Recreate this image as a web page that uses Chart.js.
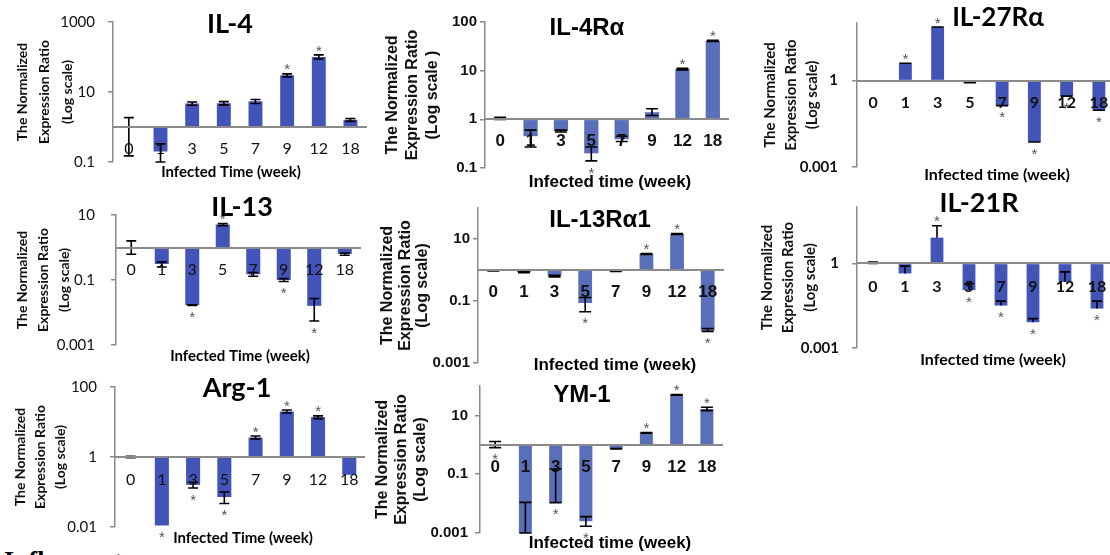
<!DOCTYPE html>
<html>
<head>
<meta charset="utf-8">
<script src="https://cdn.jsdelivr.net/npm/chart.js@4.4.1/dist/chart.umd.min.js"></script>
<style>
html, body { margin: 0; padding: 0; background: #fff; width: 1110px; height: 555px; overflow: hidden; position: relative; }
canvas { position: absolute; }
#foot { position: absolute; left: 4px; top: 546px; font: bold 26px 'Liberation Serif', serif; color: #000; }
</style>
</head>
<body>
<div id="foot">Inflammatory</div>
<script>
// categories (infected time, weeks)
const weeks = ['0', '1', '3', '5', '7', '9', '12', '18'];

// IL-4
const il4Vals = [1, 0.2, 4.7, 4.8, 5.4, 30, 100, 1.6];
const il4Lo = [0.15, 0.09, 4.2, 4.3, 4.7, 27, 88, 1.45];
const il4Hi = [1.85, 0.33, 5.2, 5.3, 6.1, 33, 115, 1.75];
const il4Sig = [0, 0, 0, 0, 0, 1, 1, 0];
const il4Ticks = [0.1, 10, 1000];

// IL-4Ra
const il4raVals = [1.05, 0.45, 0.57, 0.2, 0.39, 1.4, 10.8, 41];
const il4raLo = [1.0, 0.27, 0.55, 0.14, 0.35, 1.2, 10.4, 40];
const il4raHi = [1.1, 0.6, 0.6, 0.27, 0.45, 1.65, 11.2, 42];
const il4raSig = [0, 0, 0, -1, 0, 0, 1, 1];
const il4raTicks = [0.1, 1, 10, 100];

// IL-27Ra
const il27Vals = [1, 4, 73, 0.85, 0.135, 0.0074, 0.29, 0.093];
const il27Lo = [null, 4, 73, 0.85, 0.135, 0.0074, 0.29, 0.093];
const il27Hi = [null, 4, 73, 0.85, 0.135, 0.0074, 0.29, 0.093];
const il27Sig = [0, 1, 1, 0, -1, -1, -1, -1];
const il27Ticks = [0.001, 1];

// IL-13
const il13Vals = [1, 0.31, 0.0168, 5.1, 0.15, 0.1, 0.016, 0.63];
const il13Lo = [0.62, 0.25, 0.0165, 4.7, 0.13, 0.09, 0.0055, 0.58];
const il13Hi = [1.6, 0.36, 0.0172, 5.5, 0.17, 0.11, 0.027, 0.68];
const il13Sig = [0, 0, -1, 1, 0, -1, -1, 0];
const il13Ticks = [0.001, 0.1, 10];

// IL-13Ra1
const il13raVals = [0.95, 0.85, 0.65, 0.086, 0.92, 3.3, 14.5, 0.011];
const il13raLo = [0.93, 0.82, 0.6, 0.045, 0.9, 3.2, 14, 0.0105];
const il13raHi = [0.97, 0.88, 0.68, 0.13, 0.94, 3.4, 15, 0.013];
const il13raSig = [0, 0, 0, -1, 0, 1, 1, -1];
const il13raTicks = [0.001, 0.1, 10];

// IL-21R
const il21Vals = [1.05, 0.44, 8.2, 0.113, 0.032, 0.0082, 0.22, 0.025];
const il21Lo = [1.0, null, null, null, null, null, null, null];
const il21Hi = [1.12, 0.8, 21.7, 0.19, 0.046, 0.011, 0.5, 0.046];
const il21Sig = [0, 0, 1, -1, -1, -1, 0, -1];
const il21Ticks = [0.001, 1];

// Arg-1
const argVals = [1, 0.011, 0.16, 0.072, 3.6, 20, 13.8, 0.31];
const argLo = [0.95, null, 0.13, 0.047, 3.3, 18, 12.5, null];
const argHi = [1.05, null, 0.19, 0.1, 4, 22, 15, null];
const argSig = [0, -1, -1, -1, 1, 1, 1, 0];
const argTicks = [0.01, 1, 100];

// YM-1
const ymVals = [1, 0.001, 0.0108, 0.0025, 0.73, 2.55, 50, 16.5];
const ymLo = [0.8, 0.001, 0.0108, 0.0017, 0.72, 2.5, 49, 14.5];
const ymHi = [1.3, 0.011, 0.15, 0.0036, 0.74, 2.6, 51, 19];
const ymSig = [-1, 0, -1, -1, 0, 1, 1, 1];
const ymTicks = [0.001, 0.1, 10];

const CAL = 'Lato, sans-serif';
const ARI = "'Liberation Sans', Arial, sans-serif";
const AXIS = '#8a8a8a';

// error bars + significance stars
const errorBars = {
    id: 'errorBars',
    afterDatasetsDraw(chart, args, o) {
        const ctx = chart.ctx, meta = chart.getDatasetMeta(0), y = chart.scales.y;
        const vals = chart.data.datasets[0].data;
        ctx.save();
        ctx.strokeStyle = '#000';
        ctx.lineWidth = o.lineWidth;
        vals.forEach((v, i) => {
            const x = meta.data[i].x, pv = y.getPixelForValue(v);
            let top = pv, bot = pv;
            const ends = [];
            if (o.hi[i] != null) { top = y.getPixelForValue(o.hi[i]); ends.push(top); }
            if (o.lo[i] != null) { bot = Math.min(y.getPixelForValue(o.lo[i]), y.bottom); ends.push(bot); }
            if (ends.length) {
                ctx.beginPath();
                ctx.moveTo(x, top);
                ctx.lineTo(x, bot);
                ends.forEach(e => { ctx.moveTo(x - o.cap, e); ctx.lineTo(x + o.cap, e); });
                ctx.stroke();
            }
            const s = o.sig[i];
            if (s) {
                const size = 15;
                ctx.fillStyle = '#555';
                ctx.font = size + "px 'Liberation Sans', Arial";
                ctx.textAlign = 'center';
                ctx.textBaseline = 'alphabetic';
                const c = s > 0 ? Math.min(top, pv) - 8 : Math.max(bot, pv) + 8;
                ctx.fillText('*', x, c + 0.575 * size);
            }
        });
        ctx.restore();
    }
};

// gene name and x-axis caption
const panelText = {
    id: 'panelText',
    afterDraw(chart, args, o) {
        const ctx = chart.ctx;
        ctx.save();
        ctx.fillStyle = '#000';
        ctx.textAlign = 'center';
        ctx.textBaseline = 'middle';
        o.items.forEach(it => {
            ctx.font = 'bold ' + it.size + 'px ' + it.family;
            ctx.fillText(it.text, it.x - o.x0, it.y - o.y0);
        });
        ctx.restore();
    }
};

function panel(p) {
    const [bx, by, bw, bh] = p.box;
    const [l, t, r, b] = p.area;
    const cv = document.createElement('canvas');
    cv.width = bw; cv.height = bh;
    cv.style.left = bx + 'px'; cv.style.top = by + 'px';
    document.body.appendChild(cv);
    new Chart(cv, {
        type: 'bar',
        data: {
            labels: weeks,
            datasets: [{
                data: p.vals,
                base: 1,
                backgroundColor: p.color,
                barPercentage: p.barPct,
                categoryPercentage: 1
            }]
        },
        options: {
            responsive: false,
            animation: false,
            layout: { autoPadding: false, padding: { left: 0, top: t - by, right: bx + bw - r, bottom: by + bh - b } },
            plugins: {
                legend: { display: false },
                tooltip: { enabled: false },
                errorBars: { lo: p.lo, hi: p.hi, sig: p.sig, cap: p.cap, lineWidth: 1.6 },
                panelText: {
                    x0: bx, y0: by,
                    items: [
                        { text: p.name, x: p.nameAt[0], y: p.nameAt[1], size: p.nameSize, family: p.family },
                        { text: p.xTitle, x: p.xTitleAt[0], y: p.xTitleAt[1], size: p.xTitleSize, family: p.family }
                    ]
                }
            },
            scales: {
                x: {
                    position: { y: 1 },
                    grid: { drawOnChartArea: false, drawTicks: false },
                    border: { color: AXIS, width: 2, z: 1 },
                    ticks: { color: '#111', font: p.xTickFont, padding: p.xTickPad, maxRotation: 0, autoSkip: false, z: 1 }
                },
                y: {
                    type: 'logarithmic',
                    min: p.min,
                    max: p.max,
                    afterBuildTicks: s => { s.ticks = p.ticks.map(v => ({ value: v })); },
                    afterFit: s => { s.width = l - bx; },
                    grid: { drawOnChartArea: false, drawTicks: true, tickLength: 5, color: AXIS, lineWidth: 1.5 },
                    border: { color: AXIS, width: 1.5 },
                    ticks: { color: '#111', font: p.yTickFont, padding: p.yTickPad, callback: v => String(v) },
                    title: {
                        display: true,
                        text: ['The Normalized', 'Expression Ratio', p.yTitle3 || '(Log scale)'],
                        color: '#111',
                        font: p.yTitleFont,
                        padding: { top: p.yTitlePad, bottom: 0 }
                    }
                }
            }
        },
        plugins: [errorBars, panelText]
    });
}

const calBar = '#4354b8', ariBar = '#5a6fba';

panel({
    name: 'IL-4', family: CAL, nameAt: [230, 24], nameSize: 27,
    xTitle: 'Infected Time (week)', xTitleAt: [231, 172], xTitleSize: 15,
    box: [0, 0, 372, 190], area: [113, 15, 368, 162], min: 0.1, max: 1000, ticks: il4Ticks,
    vals: il4Vals, lo: il4Lo, hi: il4Hi, sig: il4Sig, color: calBar, barPct: 0.44, cap: 5,
    xTickFont: { family: CAL, size: 16 }, xTickPad: 12,
    yTickFont: { family: CAL, size: 15 }, yTickPad: 13,
    yTitleFont: { family: CAL, size: 14, weight: 'bold', lineHeight: 1.6 }, yTitlePad: 11
});
panel({
    name: 'IL-4Rα', family: ARI, nameAt: [587, 28], nameSize: 24,
    xTitle: 'Infected time (week)', xTitleAt: [610, 182], xTitleSize: 17,
    box: [370, 0, 380, 195], area: [485, 22, 728, 168], min: 0.1, max: 100, ticks: il4raTicks,
    vals: il4raVals, lo: il4raLo, hi: il4raHi, sig: il4raSig, color: ariBar, barPct: 0.47, cap: 6,
    xTickFont: { family: ARI, size: 17, weight: 'bold' }, xTickPad: 12,
    yTickFont: { family: ARI, size: 15, weight: 'bold' }, yTickPad: 3,
    yTitleFont: { family: ARI, size: 16, weight: 'bold', lineHeight: 1.25 }, yTitlePad: 13, yTitle3: '(Log scale )'
});
panel({
    name: 'IL-27Rα', family: CAL, nameAt: [998, 18], nameSize: 26,
    xTitle: 'Infected time (week)', xTitleAt: [997, 175], xTitleSize: 16,
    box: [750, 0, 380, 190], area: [857, 20, 1115, 172], min: 0.001, max: 100, ticks: il27Ticks,
    vals: il27Vals, lo: il27Lo, hi: il27Hi, sig: il27Sig, color: calBar, barPct: 0.4, cap: 6,
    xTickFont: { family: CAL, size: 16, weight: 'bold' }, xTickPad: 13,
    yTickFont: { family: CAL, size: 15, weight: 'bold' }, yTickPad: 14,
    yTitleFont: { family: CAL, size: 15, weight: 'bold', lineHeight: 1.4 }, yTitlePad: 10
});
panel({
    name: 'IL-13', family: CAL, nameAt: [242, 207], nameSize: 27,
    xTitle: 'Infected Time (week)', xTitleAt: [240, 356], xTitleSize: 15,
    box: [0, 190, 372, 180], area: [116, 213, 360, 355], min: 0.001, max: 10, ticks: il13Ticks,
    vals: il13Vals, lo: il13Lo, hi: il13Hi, sig: il13Sig, color: calBar, barPct: 0.46, cap: 5,
    xTickFont: { family: CAL, size: 16 }, xTickPad: 13,
    yTickFont: { family: CAL, size: 15 }, yTickPad: 16,
    yTitleFont: { family: CAL, size: 14, weight: 'bold', lineHeight: 1.5 }, yTitlePad: 12
});
panel({
    name: 'IL-13Rα1', family: ARI, nameAt: [600, 220], nameSize: 24,
    xTitle: 'Infected time (week)', xTitleAt: [615, 365], xTitleSize: 17,
    box: [370, 190, 380, 185], area: [478, 208, 723, 363], min: 0.001, max: 100, ticks: il13raTicks,
    vals: il13raVals, lo: il13raLo, hi: il13raHi, sig: il13raSig, color: ariBar, barPct: 0.45, cap: 6,
    xTickFont: { family: ARI, size: 17, weight: 'bold' }, xTickPad: 12,
    yTickFont: { family: ARI, size: 15, weight: 'bold' }, yTickPad: 3,
    yTitleFont: { family: ARI, size: 16, weight: 'bold', lineHeight: 1.1 }, yTitlePad: 9
});
panel({
    name: 'IL-21R', family: CAL, nameAt: [979, 203], nameSize: 27,
    xTitle: 'Infected time (week)', xTitleAt: [993, 360], xTitleSize: 16,
    box: [750, 185, 380, 185], area: [857, 203, 1113, 355], min: 0.001, max: 100, ticks: il21Ticks,
    vals: il21Vals, lo: il21Lo, hi: il21Hi, sig: il21Sig, color: calBar, barPct: 0.4, cap: 5,
    xTickFont: { family: CAL, size: 16, weight: 'bold' }, xTickPad: 14,
    yTickFont: { family: CAL, size: 15, weight: 'bold' }, yTickPad: 13,
    yTitleFont: { family: CAL, size: 15, weight: 'bold', lineHeight: 1.45 }, yTitlePad: 6
});
panel({
    name: 'Arg-1', family: CAL, nameAt: [237, 388], nameSize: 27,
    xTitle: 'Infected Time (week)', xTitleAt: [243, 538], xTitleSize: 15,
    box: [0, 365, 372, 190], area: [115, 376, 365, 527], min: 0.01, max: 100, ticks: argTicks,
    vals: argVals, lo: argLo, hi: argHi, sig: argSig, color: calBar, barPct: 0.45, cap: 5,
    xTickFont: { family: CAL, size: 16 }, xTickPad: 13,
    yTickFont: { family: CAL, size: 15 }, yTickPad: 13,
    yTitleFont: { family: CAL, size: 14, weight: 'bold', lineHeight: 1.45 }, yTitlePad: 10
});
panel({
    name: 'YM-1', family: ARI, nameAt: [582, 395], nameSize: 24,
    xTitle: 'Infected time (week)', xTitleAt: [610, 543], xTitleSize: 17,
    box: [370, 370, 380, 185], area: [480, 386, 722, 533], min: 0.001, max: 100, ticks: ymTicks,
    vals: ymVals, lo: ymLo, hi: ymHi, sig: ymSig, color: ariBar, barPct: 0.43, cap: 6,
    xTickFont: { family: ARI, size: 17, weight: 'bold' }, xTickPad: 12,
    yTickFont: { family: ARI, size: 15, weight: 'bold' }, yTickPad: 7,
    yTitleFont: { family: ARI, size: 16, weight: 'bold', lineHeight: 1.2 }, yTitlePad: 3
});
</script>
</body>
</html>
